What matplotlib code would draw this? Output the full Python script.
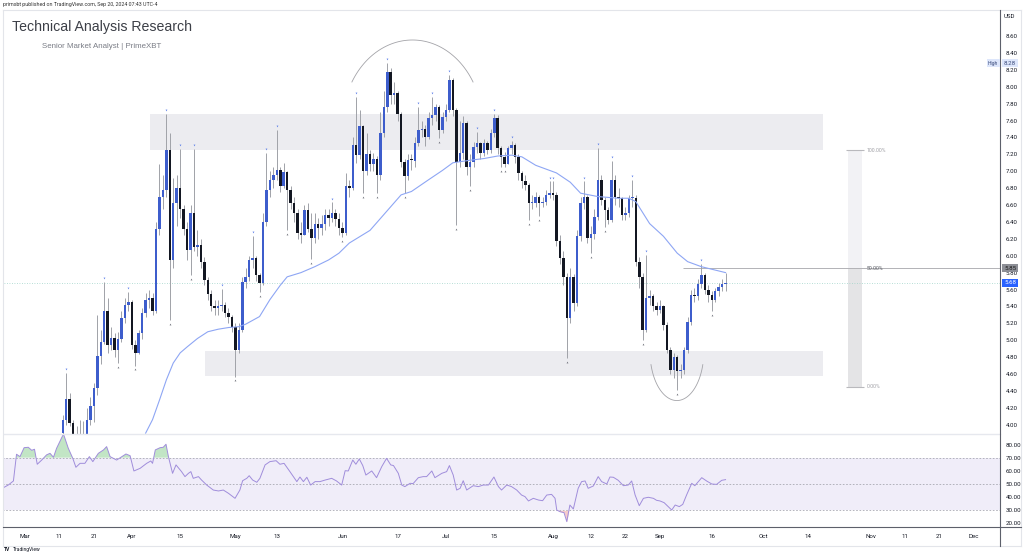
import numpy as np
import matplotlib
matplotlib.use("Agg")
import matplotlib.pyplot as plt
from matplotlib.patches import Rectangle
from matplotlib.lines import Line2D

plt.rcParams["font.family"] = ["Roboto", "DejaVu Sans"]

# ------------------------------------------------------
# Data  (x = days since 2024-03-01)
# ------------------------------------------------------
first_day = 11
first_open = 3.90
closes = [
    4.06, 4.30, 4.02, 3.85, 3.83, 3.82, 3.84, 4.06, 4.22, 4.43,
    4.81, 4.98, 5.34, 4.94, 5.03, 4.89, 5.02, 5.26, 5.42, 5.45,
    4.94, 4.85, 5.08, 5.32, 5.48, 5.50, 5.35, 6.32, 6.70, 6.78,
    7.25, 5.95, 6.62, 6.80, 6.55, 6.32, 6.07, 6.50, 6.10, 6.13,
    5.93, 5.71, 5.55, 5.40, 5.38, 5.40, 5.42, 5.32, 5.28, 5.16,
    4.88, 5.12, 5.69, 5.75, 5.95, 5.97, 5.77, 5.68, 6.40, 6.78,
    6.90, 6.95, 7.01, 6.82, 6.99, 6.78, 6.62, 6.50, 6.27, 6.25,
    6.54, 6.32, 6.21, 6.38, 6.33, 6.38, 6.48, 6.45, 6.50, 6.44,
    6.33, 6.27, 6.82, 6.80, 7.31, 7.19, 7.53, 7.00, 7.20, 7.08,
    7.15, 6.95, 7.45, 7.76, 8.17, 7.90, 7.92, 7.68, 7.11, 6.94,
    7.13, 7.12, 7.33, 7.49, 7.50, 7.41, 7.63, 7.66, 7.76, 7.49,
    7.64, 7.72, 8.08, 7.72, 7.11, 7.21, 7.57, 7.05, 7.11, 7.29,
    7.33, 7.21, 7.33, 7.25, 7.45, 7.63, 7.27, 7.17, 7.09, 7.27,
    7.31, 7.17, 6.98, 6.88, 6.84, 6.62, 6.62, 6.70, 6.62, 6.64,
    6.72, 6.74, 6.72, 6.17, 5.97, 5.75, 5.26, 5.75, 5.44, 6.23,
    6.62, 6.70, 6.21, 6.26, 6.46, 6.90, 6.66, 6.54, 6.42, 6.90,
    6.70, 6.68, 6.48, 6.50, 6.68, 6.68, 5.93, 5.75, 5.12, 5.50,
    5.52, 5.40, 5.36, 5.40, 5.18, 4.88, 4.65, 4.80, 4.63, 4.65,
    4.88, 5.22, 5.54, 5.52, 5.67, 5.77, 5.60, 5.54, 5.48, 5.58,
    5.63, 5.66, 5.68,
]
highs = [
    4.12, 4.61, 4.38, 4.06, 3.99, 4.06, 4.04, 4.20, 4.33, 4.49,
    5.30, 5.12, 5.69, 5.50, 5.16, 5.08, 5.10, 5.34, 5.50, 5.57,
    5.47, 5.00, 5.12, 5.38, 5.56, 5.60, 5.56, 6.40, 7.09, 6.95,
    7.68, 7.45, 6.92, 6.95, 7.26, 6.60, 6.40, 6.60, 7.26, 6.30,
    6.20, 5.98, 5.75, 5.60, 5.48, 5.47, 5.61, 5.45, 5.38, 5.30,
    5.20, 5.20, 5.75, 5.85, 6.00, 6.23, 6.00, 5.80, 6.50, 7.22,
    7.00, 7.05, 7.49, 7.05, 7.10, 7.00, 6.82, 6.70, 6.55, 6.40,
    6.60, 6.62, 6.50, 6.50, 6.45, 6.48, 6.55, 6.55, 6.63, 6.55,
    6.50, 6.40, 6.98, 6.90, 7.40, 7.88, 7.72, 7.55, 7.45, 7.25,
    7.22, 7.18, 7.70, 7.95, 8.28, 8.22, 8.05, 7.95, 7.70, 7.15,
    7.20, 7.20, 7.40, 7.76, 7.60, 7.55, 7.70, 7.88, 7.80, 7.78,
    7.70, 7.80, 8.14, 8.10, 7.75, 7.60, 7.65, 7.60, 7.20, 7.35,
    7.47, 7.35, 7.38, 7.36, 7.50, 7.68, 7.66, 7.30, 7.23, 7.30,
    7.36, 7.33, 7.20, 7.00, 6.95, 6.86, 6.72, 6.75, 6.72, 6.70,
    6.78, 6.88, 6.88, 6.75, 6.25, 6.05, 5.80, 5.85, 5.78, 6.30,
    6.70, 6.88, 6.72, 6.35, 6.55, 7.28, 6.95, 6.70, 6.58, 7.12,
    6.95, 6.80, 6.70, 6.58, 6.72, 6.90, 6.72, 5.98, 5.80, 6.01,
    5.60, 5.55, 5.45, 5.48, 5.42, 5.22, 4.92, 4.85, 4.82, 4.72,
    4.92, 5.28, 5.60, 5.62, 5.72, 5.90, 5.80, 5.65, 5.58, 5.62,
    5.68, 5.72, 5.80,
]
lows = [
    3.86, 4.00, 3.98, 3.80, 3.72, 3.70, 3.75, 3.80, 4.00, 4.03,
    4.35, 4.72, 4.95, 4.85, 4.88, 4.80, 4.73, 4.98, 5.20, 5.35,
    4.90, 4.70, 4.84, 5.02, 5.28, 5.38, 5.30, 5.32, 6.25, 6.55,
    6.70, 5.24, 5.85, 6.35, 6.45, 6.25, 5.95, 5.77, 6.05, 6.00,
    5.85, 5.65, 5.48, 5.35, 5.30, 5.30, 5.35, 5.28, 5.20, 5.10,
    4.57, 4.85, 5.10, 5.62, 5.70, 5.85, 5.70, 5.57, 5.65, 6.35,
    6.70, 6.80, 6.90, 6.75, 6.80, 6.30, 6.55, 6.40, 6.20, 6.15,
    6.24, 6.28, 5.96, 6.15, 6.20, 6.25, 6.30, 6.35, 6.40, 6.35,
    6.25, 6.22, 6.25, 6.70, 6.78, 7.10, 7.15, 6.74, 6.95, 7.00,
    7.00, 6.74, 6.90, 7.40, 7.70, 7.80, 7.80, 7.60, 7.05, 6.74,
    6.90, 7.02, 7.05, 7.30, 7.40, 7.30, 7.38, 7.55, 7.60, 7.39,
    7.45, 7.60, 7.70, 7.65, 6.36, 7.05, 7.15, 6.95, 6.82, 7.05,
    7.22, 7.15, 7.18, 7.20, 7.22, 7.40, 7.20, 7.05, 7.05, 7.08,
    7.20, 7.10, 6.90, 6.80, 6.78, 6.42, 6.55, 6.58, 6.47, 6.58,
    6.60, 6.68, 6.66, 6.12, 5.90, 5.65, 4.79, 5.20, 5.35, 5.40,
    6.18, 6.55, 6.15, 6.03, 6.20, 6.42, 6.60, 6.34, 6.38, 6.40,
    6.60, 6.58, 6.42, 6.42, 6.46, 6.58, 5.88, 5.62, 5.00, 5.10,
    5.42, 5.35, 5.30, 5.32, 5.12, 4.85, 4.60, 4.55, 4.41, 4.55,
    4.60, 4.85, 5.18, 5.45, 5.48, 5.62, 5.55, 5.45, 5.34, 5.45,
    5.52, 5.58, 5.58,
]

# pivot markers drawn by the indicator
pivot_high_days = [12, 23, 30, 41, 45, 49, 57, 66, 70, 73, 89, 96, 105, 114, 118,
                   123, 131, 136, 141, 152, 153, 162, 166, 170, 176, 180, 196]
pivot_low_days = [27, 32, 42, 48, 61, 68, 76, 83, 92, 98, 102, 110, 120, 125, 129,
                  138, 139, 146, 149, 157, 164, 168, 179, 189, 199]

# 50 SMA
ma_day = [35, 37, 39, 41, 43, 45, 47, 50, 53, 56, 59, 62, 64, 68, 71, 74, 76, 80, 84, 88,
          91, 94, 100, 106, 109, 112, 117, 121, 124, 129, 133, 137, 141, 144, 148, 154,
          158, 161, 166, 172, 175, 177, 181, 185, 189, 192, 196, 200, 203]
ma_val = [3.90, 4.06, 4.29, 4.53, 4.73, 4.85, 4.92, 5.02, 5.10, 5.13, 5.15, 5.16, 5.19,
          5.28, 5.48, 5.65, 5.75, 5.80, 5.87, 5.95, 6.03, 6.15, 6.30, 6.58, 6.72, 6.76,
          6.90, 7.01, 7.10, 7.13, 7.15, 7.18, 7.19, 7.17, 7.07, 6.98, 6.87, 6.74, 6.70,
          6.68, 6.68, 6.64, 6.38, 6.23, 6.03, 5.93, 5.87, 5.83, 5.80]

# RSI pane
rsi_day = [-6.2, -4.8, -3.3, -2.4, -1.4, -0.2, 1.0, 2.0, 2.8, 3.6,
           4.9, 6.3, 7.3, 8.3, 9.2, 11.2, 12.6, 13.9, 14.8, 16.0,
           17.4, 18.7, 19.7, 21.3, 22.8, 23.7, 24.7, 26.6, 28.1, 29.3,
           30.5, 31.6, 33.4, 35.3, 36.5, 37.0, 37.8, 39.2, 40.1, 40.9,
           41.6, 42.8, 43.8, 45.4, 46.4, 47.4, 48.1, 48.8, 50.3, 51.2,
           52.7, 54.6, 56.1, 57.5, 59.0, 60.9, 62.3, 63.1, 64.3, 65.0,
           66.0, 67.2, 68.1, 69.6, 71.0, 72.8, 73.9, 75.1, 76.8, 78.8,
           79.7, 80.7, 81.7, 82.8, 84.1, 85.5, 87.0, 88.9, 90.3, 91.8,
           92.8, 93.7, 95.0, 95.9, 96.9, 97.9, 98.8, 100.5, 101.9, 103.4,
           104.8, 106.0, 106.8, 108.2, 109.2, 110.1, 111.6, 112.5, 114.0, 115.4,
           116.4, 117.9, 118.8, 120.8, 122.2, 123.0, 124.1, 125.1, 126.1, 127.0,
           128.0, 129.9, 131.4, 132.8, 134.3, 135.9, 137.2, 138.1, 139.6, 141.0,
           142.5, 143.9, 144.9, 145.9, 147.3, 148.8, 150.0, 151.2, 152.6, 153.6,
           154.1, 155.0, 156.2, 157.0, 157.9, 158.9, 160.3, 161.3, 162.3, 163.2,
           164.7, 166.1, 167.1, 168.6, 169.5, 170.5, 171.9, 173.4, 174.8, 175.8,
           176.8, 178.0, 179.2, 180.6, 182.1, 183.0, 184.0, 185.2, 186.4, 187.4,
           188.4, 189.6, 190.6, 191.7, 193.2, 194.1, 196.1, 197.5, 199.0, 200.4,
           201.9, 203.0]
rsi_val = [47.2, 49.2, 52.3, 72.6, 70.8, 77.6, 77.9, 75.6, 76.4, 65.0,
           68.2, 72.1, 73.3, 70.3, 77.1, 88.0, 77.1, 69.5, 62.7, 65.7,
           65.7, 70.8, 67.0, 73.3, 75.9, 78.4, 70.8, 68.2, 70.8, 72.8,
           71.5, 59.9, 61.9, 65.7, 67.5, 65.7, 75.9, 77.6, 77.9, 80.2,
           70.8, 58.1, 64.5, 59.4, 55.6, 58.1, 59.4, 54.3, 55.6, 53.0,
           49.2, 45.4, 44.7, 45.4, 42.9, 39.1, 45.4, 52.5, 54.3, 56.3,
           53.0, 51.3, 54.3, 64.5, 67.0, 67.7, 65.0, 65.7, 59.4, 51.8,
           55.3, 51.8, 55.1, 49.2, 51.8, 51.8, 53.0, 54.3, 52.3, 49.2,
           60.1, 59.9, 68.2, 65.0, 69.0, 64.0, 56.8, 59.9, 54.8, 63.2,
           69.5, 64.5, 64.0, 58.1, 49.2, 48.0, 50.5, 50.3, 54.8, 55.6,
           55.6, 59.9, 54.8, 58.1, 59.4, 64.0, 56.8, 45.4, 46.7, 52.5,
           45.4, 48.7, 48.0, 49.2, 49.2, 55.3, 48.0, 45.4, 49.2, 48.0,
           45.4, 41.6, 40.4, 37.1, 39.1, 37.8, 37.3, 41.6, 42.1, 39.1,
           30.2, 29.0, 28.2, 21.4, 34.0, 31.0, 46.7, 51.8, 52.3, 46.7,
           48.5, 55.6, 51.8, 50.0, 55.3, 55.1, 52.8, 48.7, 49.2, 52.3,
           41.6, 33.5, 39.1, 39.9, 39.1, 37.6, 37.1, 35.8, 32.8, 30.2,
           34.0, 32.8, 34.5, 41.6, 50.5, 48.7, 54.8, 52.3, 50.0, 49.7,
           52.8, 53.3]

tick_day = [0, 10, 20, 31, 45, 61, 73, 92, 108, 122, 136, 153, 164, 174, 184, 199,
            214, 227, 245, 255, 265, 275]
tick_text = ["Mar", "11", "21", "Apr", "15", "May", "13", "Jun", "17", "Jul", "15",
             "Aug", "12", "22", "Sep", "16", "Oct", "14", "Nov", "11", "21", "Dec"]
price_ticks = [4.0, 4.2, 4.4, 4.6, 4.8, 5.0, 5.2, 5.4, 5.6, 5.8, 6.0, 6.2, 6.4, 6.6,
               6.8, 7.0, 7.2, 7.4, 7.6, 7.8, 8.0, 8.2, 8.4, 8.6]
rsi_ticks = [20, 30, 40, 50, 60, 70, 80]

supply_zone = (36.3, 231.2, 7.25, 7.68)
demand_zone = (52.2, 231.2, 4.58, 4.87)
fib_top, fib_bottom = 7.25, 4.45
last_price = 5.68
ath_price = 8.28

# ------------------------------------------------------
# Layout helpers (pixel -> figure fraction)
# ------------------------------------------------------
W, H = 1024, 554
def fx(px):
    return px / W
def fy(py):
    return 1 - py / H

BLUE = "#3d5dcc"
BLACK = "#131722"
WICK = "#a0a2a8"
TXT = "#131722"

fig = plt.figure(figsize=(W / 100, H / 100), dpi=100)
fig.patch.set_facecolor("white")

ax = fig.add_axes([fx(4), fy(434), fx(1000) - fx(4), fy(10) - fy(434)])
rsi_ax = fig.add_axes([fx(4), fy(527), fx(1000) - fx(4), fy(434) - fy(527)], sharex=ax)
for a in (ax, rsi_ax):
    for s in a.spines.values():
        s.set_visible(False)
    a.set_facecolor("white")

ax.set_xlim(-6.03, 282.5)
ax.set_ylim(3.89, 8.908)
rsi_ax.set_ylim(17.3, 88.0)

# ---- zones & drawings ----
for x0, x1, y0, y1 in (supply_zone, demand_zone):
    ax.add_patch(Rectangle((x0, y0), x1 - x0, y1 - y0, color="#ececf0", lw=0, zorder=1))

fib_mid = (fib_top + fib_bottom) / 2
ax.add_patch(Rectangle((238.5, fib_mid), 4.0, fib_top - fib_mid, color="#f2f2f5", lw=0, zorder=1))
ax.add_patch(Rectangle((238.5, fib_bottom), 4.0, fib_mid - fib_bottom, color="#e4e4e6", lw=0, zorder=1))
ax.hlines([fib_top, fib_bottom], 238.0, 243.0, color="#b9b9bd", lw=0.8, zorder=2)
ax.hlines(fib_mid, 190.6, 282.5, color="#b2b2b6", lw=0.7, zorder=2)
ax.text(243.8, fib_top, "100.00%", fontsize=3.7, color="#a0a0a6", va="center")
ax.text(243.8, fib_mid, "50.00%", fontsize=3.7, color="#555860", va="center")
ax.text(243.8, fib_bottom, "0.00%", fontsize=3.7, color="#a0a0a6", va="center")

# rounded top / rounded bottom arcs
t = np.radians(np.linspace(30.2, 149.8, 80))
ax.plot(112.3 + 20.3 * np.cos(t), 7.553 + 1.0 * np.sin(t), color="#a3a3a8", lw=0.6, zorder=2)
t = np.radians(np.linspace(195.7, 344.3, 80))
ax.plot(188.9 + 7.8 * np.cos(t), 4.869 + 0.583 * np.sin(t), color="#a3a3a8", lw=0.6, zorder=2)

# last price dotted line
ax.axhline(last_price, color="#9fd3c9", lw=0.6, ls=(0, (1, 2)), zorder=2)

# ---- candles ----
c = np.array(closes)
o = np.r_[first_open, c[:-1]]
hi = np.array(highs)
lo = np.array(lows)
days = np.arange(first_day, first_day + len(c))
up = c >= o
ax.vlines(days, lo, hi, color=WICK, lw=0.7, zorder=3)
body = np.where(np.abs(c - o) < 0.012, 0.012, c - o)
ax.bar(days, body, bottom=o, width=0.72, color=np.where(up, BLUE, BLACK), lw=0, zorder=4)

hd = np.array(pivot_high_days)
ld = np.array(pivot_low_days)
ax.plot(hd, hi[hd - first_day] + 0.045, ls="", marker="v", ms=1.3, color="#5b7ee8", mew=0, zorder=5)
ax.plot(ld, lo[ld - first_day] - 0.045, ls="", marker="^", ms=1.3, color="#6e7079", mew=0, zorder=5)

ax.plot(ma_day, ma_val, color="#8ea6f4", lw=0.8, zorder=5)

# ---- axes labels ----
ax.yaxis.tick_right()
ax.set_yticks(price_ticks)
ax.set_yticklabels([f"{p:.2f}" for p in price_ticks])
ax.tick_params(axis="y", length=0, pad=4, labelsize=4.4, labelcolor=TXT)
ax.tick_params(axis="x", bottom=False, labelbottom=False)

rsi_ax.axhspan(30, 70, color="#f0edf9", lw=0, zorder=0)
rsi_ax.hlines([30, 50, 70], -10, 290, color="#a8a8b2", lw=0.6, ls=(0, (2, 2)), zorder=1)
rv = np.array(rsi_val)
rsi_ax.fill_between(rsi_day, rv, 70, where=rv > 70, interpolate=True, color="#a9dbad", alpha=0.7, lw=0, zorder=1)
rsi_ax.fill_between(rsi_day, rv, 30, where=rv < 30, interpolate=True, color="#f3b5b5", alpha=0.7, lw=0, zorder=1)
rsi_ax.plot(rsi_day, rv, color="#a08ddb", lw=0.7, zorder=2)
rsi_ax.yaxis.tick_right()
rsi_ax.set_yticks(rsi_ticks)
rsi_ax.set_yticklabels([f"{v:.2f}" for v in rsi_ticks])
rsi_ax.tick_params(axis="y", length=0, pad=4, labelsize=4.4, labelcolor=TXT)
rsi_ax.set_xticks(tick_day)
rsi_ax.set_xticklabels(tick_text)
rsi_ax.tick_params(axis="x", length=0, pad=5, labelsize=4.4, labelcolor=TXT)

# ---- frame lines ----
def fig_line(x0, y0, x1, y1, color, lw):
    fig.add_artist(Line2D([fx(x0), fx(x1)], [fy(y0), fy(y1)], color=color, lw=lw))

fig_line(3, 10, 1021, 10, "#e3e5ea", 0.8)
fig_line(3, 10, 3, 546, "#e3e5ea", 0.8)
fig_line(1021, 10, 1021, 546, "#e3e5ea", 0.8)
fig_line(3, 546, 1021, 546, "#e3e5ea", 0.8)
fig_line(4, 434, 1000, 434, "#e6e8ee", 1.0)
fig_line(3, 527, 1021, 527, "#5d606b", 0.8)
fig_line(1000, 10, 1000, 546, "#5d606b", 0.8)

# ---- price-scale badges ----
def badge(px, py, text, bg, fg):
    fig.text(fx(px), fy(py), text, fontsize=4.4, color=fg, va="center", ha="left",
             bbox=dict(boxstyle="square,pad=0.25", fc=bg, ec="none"))

def price_y(p):
    return 36 + (8.60 - p) * 84.5

badge(1004, 16, "USD", "white", TXT)
badge(1004, price_y(ath_price), f"{ath_price:.2f}", "#dde6fb", "#3a4a7a")
fig.text(fx(988), fy(price_y(ath_price)), "High", fontsize=3.6, color="#3a4a7a",
         va="center", ha="left", bbox=dict(boxstyle="square,pad=0.25", fc="#dde6fb", ec="none"))
badge(1004, price_y(fib_mid), f"{fib_mid:.2f}", "#8d8f96", "#1a1a1a")
badge(1004, price_y(last_price), f"{last_price:.2f}", "#2962ff", "white")

# ---- titles / watermark ----
fig.text(fx(3), fy(4.5), "primxbt published on TradingView.com, Sep 20, 2024 07:43 UTC-4",
         fontsize=3.8, color="#333333", va="center")
fig.text(fx(12), fy(27), "Technical Analysis Research", fontsize=10.2, color="#3c3f47",
         va="center", family=["Liberation Sans", "DejaVu Sans"])
fig.text(fx(42), fy(46), "Senior Market Analyst | PrimeXBT", fontsize=5.7, color="#7a7d86",
         va="center", family=["Liberation Sans", "DejaVu Sans"])
fig.text(fx(4), fy(549.5), "TV", fontsize=3.6, color="#131722", weight="bold", va="center")
fig.text(fx(13), fy(549.5), "TradingView", fontsize=3.6, color="#131722", va="center")

fig.savefig("out.png", dpi=100, facecolor="white")
